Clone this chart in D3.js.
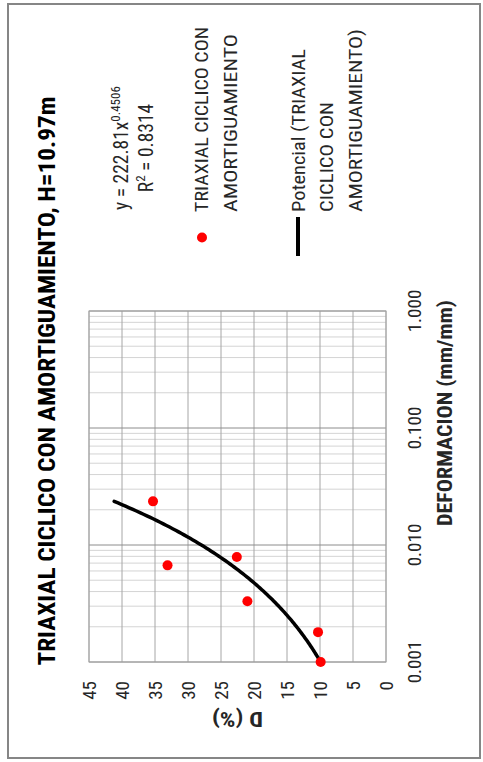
<!DOCTYPE html>
<html>
<head>
<meta charset="utf-8">
<script src="https://cdn.jsdelivr.net/npm/d3@7"></script>
<style>
  html, body { margin: 0; padding: 0; background: #fff; }
  svg { display: block; }
</style>
</head>
<body>
<script>
// Measured deformation (mm/mm) and damping ratio D (%)
const deformation = [0.001, 0.0018, 0.0033, 0.0067, 0.0079, 0.0236];
const damping     = [9.9, 10.3, 21.0, 33.1, 22.6, 35.3];

// Power trendline y = a * x^b and its R²
const trendA = 222.81;
const trendB = 0.4506;
const trendR2 = "0.8314";

// Axis ticks
const xTicks = [0.001, 0.01, 0.1, 1];
const xTickLabels = ["0.001", "0.010", "0.100", "1.000"];
const yTicks = [0, 5, 10, 15, 20, 25, 30, 35, 40, 45];

const chartTitle = "TRIAXIAL CICLICO CON AMORTIGUAMIENTO, H=10.97m";
const xTitle = "DEFORMACION (mm/mm)";
const yTitle = "D (%)";
const seriesName = ["TRIAXIAL CICLICO CON", "AMORTIGUAMIENTO"];
const trendName = ["Potencial (TRIAXIAL", "CICLICO CON", "AMORTIGUAMIENTO)"];

const PAGE_W = 483, PAGE_H = 762;
const font = "'Liberation Sans Narrow', 'Roboto Condensed', 'Liberation Sans', Arial, sans-serif";

const svg = d3.select("body").append("svg")
  .attr("width", PAGE_W).attr("height", PAGE_H);

// The whole chart is laid out landscape and turned a quarter-turn counter-clockwise.
const g = svg.append("g").attr("transform", `translate(0,${PAGE_H}) rotate(-90)`);

// Chart frame border
g.append("rect")
  .attr("x", 4).attr("y", 8).attr("width", 754).attr("height", 472)
  .attr("fill", "#fff").attr("stroke", "#868686").attr("stroke-width", 2);

const plot = { left: 100, right: 451, top: 89, bottom: 386 };

const x = d3.scaleLog().domain([0.001, 1]).range([plot.left, plot.right]);
const y = d3.scaleLinear().domain([0, 45]).range([plot.bottom, plot.top]);

// Minor log gridlines
const minor = [];
[0.001, 0.01, 0.1].forEach(d => { for (let k = 2; k <= 9; k++) minor.push(k * d); });
g.append("g").selectAll("line").data(minor).join("line")
  .attr("x1", d => x(d)).attr("x2", d => x(d))
  .attr("y1", plot.top).attr("y2", plot.bottom)
  .attr("stroke", "#d4d4d4").attr("stroke-width", 1);

// Horizontal gridlines for D
g.append("g").selectAll("line").data(yTicks).join("line")
  .attr("x1", plot.left).attr("x2", plot.right)
  .attr("y1", d => y(d)).attr("y2", d => y(d))
  .attr("stroke", "#a6a6a6").attr("stroke-width", 1);

// Decade gridlines
g.append("g").selectAll("line").data(xTicks).join("line")
  .attr("x1", d => x(d)).attr("x2", d => x(d))
  .attr("y1", plot.top).attr("y2", plot.bottom)
  .attr("stroke", "#8c8c8c").attr("stroke-width", 1);

// Plot area outline
g.append("rect")
  .attr("x", plot.left).attr("y", plot.top)
  .attr("width", plot.right - plot.left).attr("height", plot.bottom - plot.top)
  .attr("fill", "none").attr("stroke", "#a6a6a6").attr("stroke-width", 1);

// X tick labels
g.append("g").selectAll("text").data(xTicks).join("text")
  .attr("x", d => x(d)).attr("y", 421)
  .attr("text-anchor", "middle")
  .attr("font-family", font).attr("font-size", 19).attr("fill", "#262626")
  .text((d, i) => xTickLabels[i]);

// Y tick labels
g.append("g").selectAll("text").data(yTicks).join("text")
  .attr("x", 81).attr("y", d => y(d) + 7)
  .attr("text-anchor", "end")
  .attr("font-family", font).attr("font-size", 19).attr("fill", "#262626")
  .text(d => d);

// Axis titles
g.append("text")
  .attr("x", 349).attr("y", 452)
  .attr("text-anchor", "middle")
  .attr("font-family", font).attr("font-size", 20).attr("font-weight", "bold")
  .attr("fill", "#262626")
  .attr("textLength", 226).attr("lengthAdjust", "spacingAndGlyphs")
  .text(xTitle);

g.append("text")
  .attr("transform", `translate(50,${(plot.top + plot.bottom) / 2}) rotate(-90)`)
  .attr("text-anchor", "middle")
  .attr("font-family", font).attr("font-size", 20).attr("font-weight", "bold")
  .attr("fill", "#262626")
  .attr("textLength", 51).attr("lengthAdjust", "spacingAndGlyphs")
  .text(yTitle);

// Chart title
g.append("text")
  .attr("x", 381).attr("y", 55)
  .attr("text-anchor", "middle")
  .attr("font-family", font).attr("font-size", 24).attr("font-weight", "bold")
  .attr("fill", "#000")
  .attr("textLength", 569).attr("lengthAdjust", "spacingAndGlyphs")
  .text(chartTitle);

// Power trendline, drawn over the measured range
const xMin = d3.min(deformation), xMax = d3.max(deformation);
const trendX = d3.range(0, 101).map(i => Math.pow(10, Math.log10(xMin) + (Math.log10(xMax) - Math.log10(xMin)) * i / 100));
const line = d3.line().x(d => x(d)).y(d => y(trendA * Math.pow(d, trendB)));
g.append("path")
  .datum(trendX)
  .attr("d", line)
  .attr("fill", "none").attr("stroke", "#000").attr("stroke-width", 3.5)
  .attr("stroke-linecap", "round");

// Measured points
g.append("g").selectAll("circle").data(deformation).join("circle")
  .attr("cx", d => x(d)).attr("cy", (d, i) => y(damping[i]))
  .attr("r", 5).attr("fill", "#ff0000");

// Trendline equation and R²
const eq = g.append("text")
  .attr("x", 614).attr("y", 128)
  .attr("text-anchor", "middle")
  .attr("font-family", font).attr("font-size", 19.5).attr("fill", "#262626");
eq.append("tspan").text(`y = ${trendA}x`);
eq.append("tspan").attr("dy", -8).attr("font-size", 13).text(trendB);

const r2 = g.append("text")
  .attr("x", 614).attr("y", 153)
  .attr("text-anchor", "middle")
  .attr("font-family", font).attr("font-size", 19.5).attr("fill", "#262626");
r2.append("tspan").text("R");
r2.append("tspan").attr("dy", -8).attr("font-size", 13).text("2");
r2.append("tspan").attr("dy", 8).text(` = ${trendR2}`);

// Legend
const legendX = 550;
g.append("circle").attr("cx", 524.5).attr("cy", 202).attr("r", 5).attr("fill", "#ff0000");
g.append("line")
  .attr("x1", 506).attr("x2", 545).attr("y1", 298).attr("y2", 298)
  .attr("stroke", "#000").attr("stroke-width", 4);

const legendRows = [
  { text: seriesName[0], y: 208, len: 185 },
  { text: seriesName[1], y: 237, len: 178 },
  { text: trendName[0], y: 305, len: 163 },
  { text: trendName[1], y: 333, len: 110 },
  { text: trendName[2], y: 362, len: 183 }
];
g.append("g").selectAll("text").data(legendRows).join("text")
  .attr("x", legendX).attr("y", d => d.y)
  .attr("font-family", font).attr("font-size", 18).attr("fill", "#262626")
  .attr("textLength", d => d.len).attr("lengthAdjust", "spacingAndGlyphs")
  .text(d => d.text);
</script>
</body>
</html>
